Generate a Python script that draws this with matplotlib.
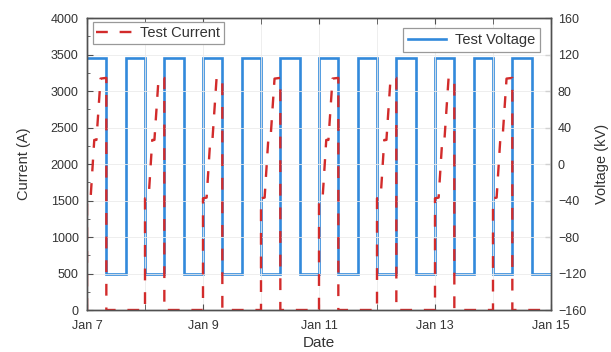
import matplotlib
matplotlib.use("Agg")
import matplotlib.pyplot as plt
import matplotlib.dates as mdates
from matplotlib.ticker import MultipleLocator
from datetime import datetime
import numpy as np

plt.rcParams['font.family'] = ['Liberation Sans', 'DejaVu Sans']

# ---------------- data ----------------
start_date = datetime(2019, 1, 7)
n_days = 8                                   # Jan 7 .. Jan 15
# voltage: 8 h blocks alternating high / low (kV)
voltage_block_hours = 8
voltage_kv = [116, -120] * 12                # 24 blocks = 8 days
# daily current heating cycle (hours after midnight, amps)
current_profile_hours = [0.0, 0.0, 1.5, 3.0, 3.9, 5.6, 8.0, 8.0]
current_profile_amps = [0, 1530, 1540, 2330, 2330, 3170, 3180, 0]
current_days = [0, 1, 2, 3, 4, 5, 6, 7]

xtick_labels = ["Jan 7", "Jan 9", "Jan 11", "Jan 13", "Jan 15"]

# ---------------- build series ----------------
t0 = mdates.date2num(start_date)

v_t, v_v = [], []
for i, v in enumerate(voltage_kv):
    a = i * voltage_block_hours
    b = a + voltage_block_hours
    v_t += [a, b]
    v_v += [v, v]
v_x = t0 + np.array(v_t) / 24.0

c_t, c_a = [], []
for d in current_days:
    for h, a in zip(current_profile_hours, current_profile_amps):
        c_t.append(d * 24 + h)
        c_a.append(a)
c_t.append(n_days * 24)
c_a.append(0)
c_x = t0 + np.array(c_t) / 24.0

# ---------------- plot ----------------
fig = plt.figure(figsize=(6.11, 3.52), dpi=100)
ax = fig.add_axes([0.1424, 0.1193, 0.7594, 0.8295])
ax2 = ax.twinx()

blue = '#3289db'
red = '#d22b2b'

lv, = ax2.plot(v_x, v_v, color=blue, lw=1.9, solid_joinstyle='miter')
lc, = ax.plot(c_x, c_a, color=red, lw=1.7, linestyle=(0, (5.0, 5.0)))

ax.set_zorder(ax2.get_zorder() + 1)
ax.patch.set_visible(False)

ax.set_xlim(t0, t0 + n_days)
ax.set_ylim(0, 4000)
ax2.set_ylim(-160, 160)

ax.yaxis.set_major_locator(MultipleLocator(500))
ax.yaxis.set_minor_locator(MultipleLocator(250))
ax2.yaxis.set_major_locator(MultipleLocator(40))

major_days = [t0 + 2 * k for k in range(len(xtick_labels))]
ax.set_xticks(major_days)
ax.set_xticklabels(xtick_labels)
ax.xaxis.set_minor_locator(MultipleLocator(1))

tc = '#333333'
sc = '#505050'
for a in (ax, ax2):
    for s in a.spines.values():
        s.set_color(sc)
        s.set_linewidth(1.0)
ax.tick_params(axis='both', which='major', direction='in', length=4, color=sc,
               labelsize=9, labelcolor=tc, top=True)
ax.tick_params(axis='x', which='major', pad=7)
ax.tick_params(axis='y', which='major', pad=6)
ax.tick_params(axis='both', which='minor', direction='in', length=4, color=sc, top=True)
ax.tick_params(axis='y', which='minor', length=2.5)
ax2.tick_params(axis='y', which='major', direction='in', length=4, color=sc,
                labelsize=9, labelcolor=tc, pad=5)

ax2.grid(False)
ax.grid(True, which='major', color='#ebebeb', lw=0.6)
ax.xaxis.grid(True, which='minor', color='#ebebeb', lw=0.6)
ax.set_axisbelow(True)

ax.set_xlabel('Date', fontsize=11, color=tc, labelpad=3)
ax.set_ylabel('Current (A)', fontsize=10.5, color=tc, labelpad=14)
ax2.set_ylabel('Voltage (kV)', fontsize=10.5, color=tc, labelpad=6)

leg1 = ax.legend([lc], ['Test Current'], loc='upper left',
                 bbox_to_anchor=(0.012, 0.985), fontsize=10.5, fancybox=False,
                 edgecolor='#999999', framealpha=1, handlelength=2.6,
                 borderpad=0.25, handletextpad=0.4, borderaxespad=0)
leg1.get_frame().set_linewidth(0.9)
for t in leg1.get_texts():
    t.set_color(tc)
leg2 = ax.legend([lv], ['Test Voltage'], loc='upper right',
                 bbox_to_anchor=(0.976, 0.967), fontsize=10.5, fancybox=False,
                 edgecolor='#999999', framealpha=1, handlelength=2.6,
                 borderpad=0.35, handletextpad=0.6, borderaxespad=0)
leg2.get_frame().set_linewidth(0.9)
for t in leg2.get_texts():
    t.set_color(tc)
ax.add_artist(leg1)

fig.savefig('out.png', dpi=100)
